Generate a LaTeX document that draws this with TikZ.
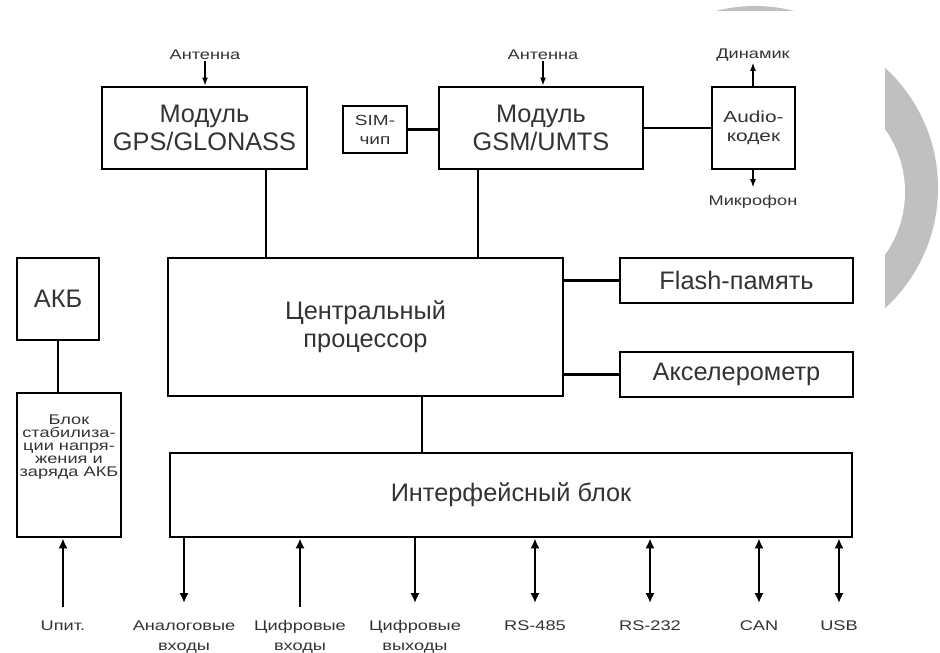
\documentclass[tikz,border=0pt]{standalone}
\usepackage{fontspec}
\setmainfont{Liberation Sans}
\newfontfamily\narrowfont[FakeStretch=1.3]{Liberation Sans}
\usetikzlibrary{arrows.meta}
\definecolor{txtgray}{HTML}{333333}
\definecolor{shadegray}{HTML}{C0C0C0}

\tikzset{
  box/.style={draw, line width=2.2pt, inner sep=0pt, align=center, text=txtgray,
    font=\fontsize{19}{21}\selectfont},
  wire/.style={line width=2.2pt},
  sig/.style={line width=1.5pt, >={Latex[length=7.5pt,width=7pt]}},
  ant/.style={line width=1pt, >={Latex[length=6pt,width=4.5pt]}},
  lbl/.style={text=txtgray, align=center, inner sep=1pt,
    font=\fontsize{10.5}{15}\narrowfont},
}

\begin{document}
\begin{tikzpicture}[x=0.75pt, y=-0.75pt]

  \useasboundingbox (0,0) rectangle (940,653);

  % Grey marks at the border
  \begin{scope}
    \clip (885,0) rectangle (940,653);
    \fill[shadegray] (775,188) circle (163);
    \fill[white] (797,192) circle (108);
  \end{scope}
  \begin{scope}
    \clip (700,0) rectangle (820,10);
    \fill[shadegray] (755,161) circle (155);
  \end{scope}

  % Radio modules
  \node[box, minimum width=153.75pt, minimum height=61.5pt] (gps) at (204.5,128) {Модуль\\GPS/GLONASS};
  \node[box, minimum width=48pt, minimum height=35.25pt,
        font=\fontsize{11}{14.25}\narrowfont] (sim) at (375,129.5) {SIM-\\чип};
  \node[box, minimum width=153pt, minimum height=61.5pt] (gsm) at (541,128) {Модуль\\GSM/UMTS};
  \node[box, minimum width=62.25pt, minimum height=61.5pt,
        font=\fontsize{12}{14.25}\narrowfont] (codec) at (753.5,128) {Audio-\\кодек};

  \node[lbl] (antgps) at (205,55) {Антенна};
  \node[lbl] (antgsm) at (543,55) {Антенна};
  \node[lbl] (spk) at (753,55) {Динамик};
  \node[lbl] (mic) at (753,202) {Микрофон};

  % Processor and its periphery
  \node[box, minimum width=296.25pt, minimum height=103.5pt] (cpu) at (365.5,327) {Центральный\\процессор};
  \node[box, minimum width=174.75pt, minimum height=33.75pt] (flash) at (736.5,280.5) {Flash-память};
  \node[box, minimum width=174.75pt, minimum height=33.75pt] (accel) at (736.5,374.5) {Акселерометр};
  \node[box, minimum width=511.5pt, minimum height=63pt] (iface) at (511,495) {Интерфейсный блок};

  % Power supply
  \node[box, minimum width=61.5pt, minimum height=61.5pt] (akb) at (58,299) {АКБ};
  \node[box, minimum width=78pt, minimum height=108pt] (stab) at (69,465) {};
  \node[lbl, font={\fontsize{10.5}{9.75}\narrowfont\lineskiplimit=-6pt}] (stabtxt) at (69,447)
    {Блок\\стабилиза-\\ции напря-\\жения и\\заряда АКБ};

  % Outside lines
  \node[lbl, anchor=north] (upit) at (63,619) {Uпит.};
  \node[lbl, anchor=north] (anin) at (184,619) {Аналоговые\\входы};
  \node[lbl, anchor=north] (digin) at (300,619) {Цифровые\\входы};
  \node[lbl, anchor=north] (digout) at (415,619) {Цифровые\\выходы};
  \node[lbl, anchor=north] (rsa) at (535,619) {RS-485};
  \node[lbl, anchor=north] (rsb) at (650,619) {RS-232};
  \node[lbl, anchor=north] (can) at (759,619) {CAN};
  \node[lbl, anchor=north] (usb) at (839,619) {USB};

  % Wires between blocks
  \draw[wire] (gps.south -| 266,0) -- (cpu.north -| 266,0);
  \draw[wire] (gsm.south -| 478,0) -- (cpu.north -| 478,0);
  \draw[wire] (sim) -- (gsm.west |- sim);
  \draw[wire] (gsm) -- (codec);
  \draw[wire] (cpu.east |- flash) -- (flash);
  \draw[wire] (cpu.east |- accel) -- (accel);
  \draw[wire] (cpu.south -| 422,0) -- (iface.north -| 422,0);
  \draw[wire] (akb) -- (akb |- stab.north);

  \draw[ant, ->] (antgps.south) -- (antgps.south |- gps.north);
  \draw[ant, ->] (antgsm.south) -- (antgsm.south |- gsm.north);
  \draw[ant, ->] (codec.north -| spk.south) -- (spk.south);
  \draw[ant, ->, shorten >=5pt] (codec.south -| mic.north) -- (mic.north);

  \draw[sig, ->] ([yshift=9pt]upit.north) -- (upit.north |- stab.south);
  \draw[sig, ->] (iface.south -| anin.north) -- ([yshift=12pt]anin.north);
  \draw[sig, ->] ([yshift=9pt]digin.north) -- (digin.north |- iface.south);
  \draw[sig, ->] (iface.south -| digout.north) -- ([yshift=12pt]digout.north);
  \draw[sig, <->] (iface.south -| rsa.north) -- ([yshift=12pt]rsa.north);
  \draw[sig, <->] (iface.south -| rsb.north) -- ([yshift=12pt]rsb.north);
  \draw[sig, <->] (iface.south -| can.north) -- ([yshift=12pt]can.north);
  \draw[sig, <->] (iface.south -| usb.north) -- ([yshift=12pt]usb.north);

\end{tikzpicture}
\end{document}
